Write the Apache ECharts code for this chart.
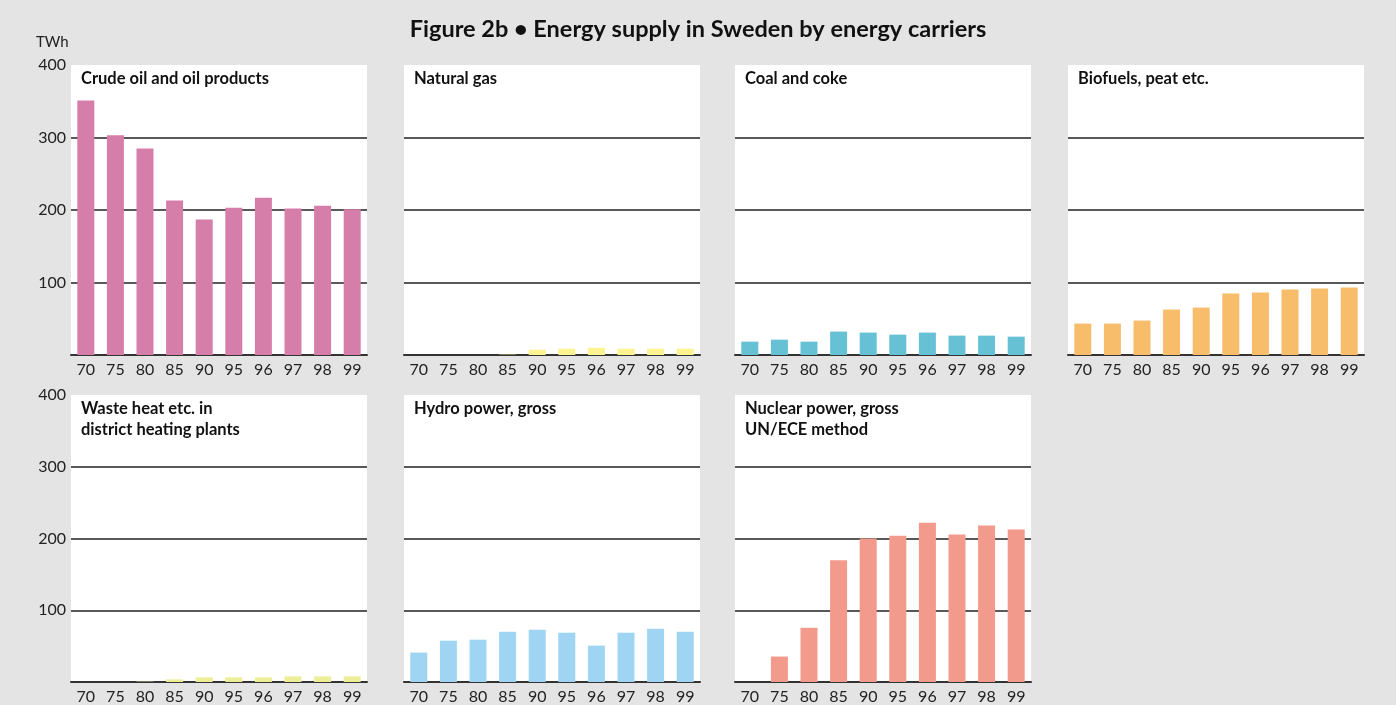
<!DOCTYPE html>
<html>
<head>
<meta charset="utf-8">
<script src="https://cdn.jsdelivr.net/npm/echarts@6/dist/echarts.min.js"></script>
<style>
  html, body { margin: 0; padding: 0; background: #e4e4e4; }
  #chart { width: 1396px; height: 705px; }
</style>
</head>
<body>
<div id="chart"></div>
<script>
// years on the x axis
var years = ['70', '75', '80', '85', '90', '95', '96', '97', '98', '99'];
var yTicks = [100, 200, 300, 400];

// TWh per energy carrier
var oil     = [351, 303, 285, 213, 187, 203, 217, 202, 206, 201];
var gas     = [0, 0, 0, 0.5, 7.3, 8.7, 10, 8.7, 8.7, 8.7];
var coal    = [18.4, 21.2, 18.4, 32.3, 30.9, 28.1, 30.9, 26.7, 26.7, 25.3];
var bio     = [43.3, 43.3, 47.5, 62.7, 65.4, 84.8, 86.2, 90.3, 91.7, 93.1];
var waste   = [0, 0, 0.5, 3.7, 6.5, 6.5, 6.5, 7.8, 7.8, 7.8];
var hydro   = [41, 57.6, 59, 70, 72.8, 68.7, 50.7, 68.7, 74.2, 70];
var nuclear = [0, 35.5, 75.6, 169.6, 200, 204, 222, 205.5, 218, 212.4];

var panelNames = [
    'Crude oil and oil products',
    'Natural gas',
    'Coal and coke',
    'Biofuels, peat etc.',
    'Waste heat etc. in\ndistrict heating plants',
    'Hydro power, gross',
    'Nuclear power, gross\nUN/ECE method'
];
var panelData = [oil, gas, coal, bio, waste, hydro, nuclear];
var panelColors = ['#d57ea9', '#fdf391', '#67c1d5', '#f7bd6b', '#eeee98', '#a0d4f3', '#f29a8c'];

var lefts = [71, 404, 735, 1068];
var tops = [65, 395];
var W = 296, H = 290;
var font = 'Lato, "Open Sans", sans-serif';

var myChart = echarts.init(document.getElementById('chart'));

var grids = [], xAxes = [], yAxes = [], series = [];
var titles = [
    {
        text: 'Figure 2b \u2022 Energy supply in Sweden by energy carriers',
        left: 'center', top: 17, padding: 0,
        textStyle: { fontFamily: font, fontSize: 23.5, fontWeight: 'bold', color: '#111' }
    },
    {
        text: 'TWh', left: 36, top: 35, padding: 0,
        textStyle: { fontFamily: font, fontSize: 15, fontWeight: 'normal', color: '#222' }
    }
];

for (var i = 0; i < panelData.length; i++) {
    var col = i % 4, row = Math.floor(i / 4);
    grids.push({
        left: lefts[col], top: tops[row], width: W, height: H,
        show: true, backgroundColor: '#fff', borderWidth: 0
    });
    xAxes.push({
        type: 'category', gridIndex: i, data: years,
        axisLine: { lineStyle: { color: '#333', width: 2 } },
        axisTick: { show: false },
        axisLabel: { margin: 7, fontFamily: font, fontSize: 16, color: '#222' }
    });
    yAxes.push({
        type: 'value', gridIndex: i, min: 0, max: 400, interval: 100,
        axisLine: { show: false },
        axisTick: { show: false },
        axisLabel: {
            show: col === 0, margin: 5, fontFamily: font, fontSize: 16, color: '#222',
            formatter: function (v) { return yTicks.indexOf(v) >= 0 ? String(v) : ''; }
        },
        splitLine: {
            lineStyle: { color: ['transparent', '#222', '#222', '#222', 'transparent'], width: 1.5 }
        }
    });
    series.push({
        type: 'bar', xAxisIndex: i, yAxisIndex: i, data: panelData[i],
        barWidth: 17, itemStyle: { color: panelColors[i] }, silent: true
    });
    titles.push({
        text: panelNames[i], left: lefts[col] + 10, top: tops[row] + 3, padding: 0,
        textStyle: { fontFamily: font, fontSize: 16.5, fontWeight: 'bold', color: '#111', lineHeight: 21 }
    });
}

myChart.setOption({
    backgroundColor: '#e4e4e4',
    animation: false,
    title: titles,
    grid: grids,
    xAxis: xAxes,
    yAxis: yAxes,
    series: series
});
</script>
</body>
</html>
